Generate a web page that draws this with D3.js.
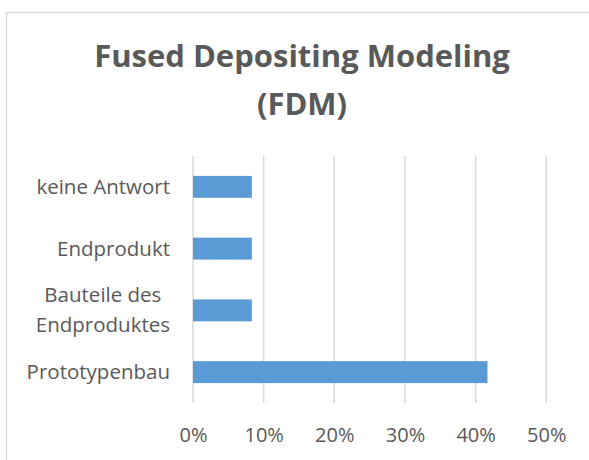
<!DOCTYPE html>
<html>
<head>
<meta charset="utf-8">
<script src="https://cdn.jsdelivr.net/npm/d3@7"></script>
<style>
  html, body { margin: 0; padding: 0; background: #fff; }
  svg { display: block; }
</style>
</head>
<body>
<script>
const categories = ["keine Antwort", "Endprodukt", "Bauteile des \nEndproduktes", "Prototypenbau"];
const values = [0.0833, 0.0833, 0.0833, 0.4167];
const tickValues = [0, 0.1, 0.2, 0.3, 0.4, 0.5];
const titleLines = ["Fused Depositing Modeling", "(FDM)"];

const W = 589, H = 460;
const font = "'Open Sans', 'DejaVu Sans', sans-serif";
const textColor = "#595959";
const gridColor = "#d9d9d9";
const barColor = "#5B9BD5";

const svg = d3.select("body").append("svg").attr("width", W).attr("height", H);

// chart frame (cropped on right & bottom)
svg.append("rect")
  .attr("x", 6.5).attr("y", 12.5)
  .attr("width", W + 20).attr("height", H + 20)
  .attr("fill", "#fff").attr("stroke", gridColor).attr("stroke-width", 1.3);

// title
const title = svg.append("text")
  .attr("text-anchor", "middle")
  .attr("font-family", font).attr("font-weight", "bold")
  .attr("font-size", 31).attr("fill", textColor);
titleLines.forEach((t, i) => {
  title.append("tspan").attr("x", 302).attr("y", 67 + i * 48).text(t);
});

const plot = { left: 193, right: 546.3, top: 156, bottom: 403 };

const x = d3.scaleLinear().domain([0, 0.5]).range([plot.left, plot.right]);
const y = d3.scaleBand().domain(categories).range([plot.top, plot.bottom]).paddingInner(0.645).paddingOuter(0.3225);

// gridlines
svg.append("g").selectAll("line").data(tickValues).join("line")
  .attr("x1", d => x(d)).attr("x2", d => x(d))
  .attr("y1", plot.top).attr("y2", plot.bottom)
  .attr("stroke", gridColor).attr("stroke-width", 1.5);

// bars
svg.append("g").selectAll("rect").data(values).join("rect")
  .attr("x", x(0))
  .attr("y", (d, i) => y(categories[i]))
  .attr("width", d => x(d) - x(0))
  .attr("height", y.bandwidth())
  .attr("fill", barColor);

// x axis tick labels
const xAxis = d3.axisBottom(x).tickValues(tickValues).tickFormat(d3.format(".0%")).tickSize(0).tickPadding(0);
const gx = svg.append("g").attr("transform", `translate(0, ${442})`).call(xAxis);
gx.select(".domain").remove();
gx.selectAll("text")
  .attr("font-family", font).attr("font-size", 20).attr("fill", textColor)
  .attr("dy", 0).attr("y", 0);

// y axis labels (centred multi-line like Excel, right aligned block)
const labelRight = 170;
const fontSize = 20.5;
const gy = svg.append("g");
categories.forEach((c) => {
  const lines = c.split("\n");
  const cy = y(c) + y.bandwidth() / 2;
  const t = gy.append("text")
    .attr("font-family", font).attr("font-size", fontSize).attr("fill", textColor);
  const lh = 30;
  lines.forEach((ln, i) => {
    t.append("tspan").attr("data-i", i).attr("x", 0)
      .attr("y", cy + 7 + (i - (lines.length - 1) / 2) * lh).text(ln.trim());
  });
  // measure widths to center lines within block right-aligned at labelRight
  const tspans = t.selectAll("tspan").nodes();
  const widths = tspans.map(n => n.getComputedTextLength());
  const maxW = d3.max(widths);
  t.attr("text-anchor", "middle");
  t.selectAll("tspan").attr("x", labelRight - maxW / 2);
});
</script>
</body>
</html>
